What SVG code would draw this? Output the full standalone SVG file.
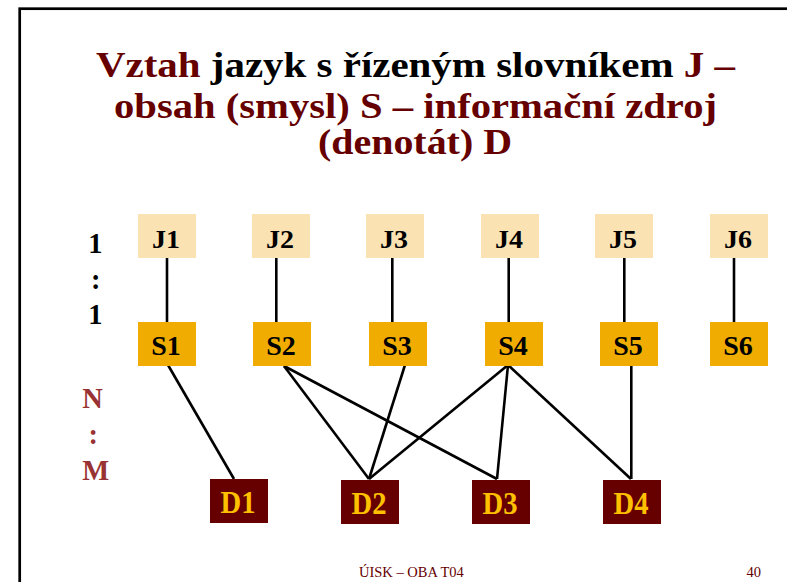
<svg xmlns="http://www.w3.org/2000/svg" width="787" height="582" viewBox="0 0 787 582">
<style>
.t{font-family:"Liberation Serif","Times New Roman",serif;font-weight:bold}
.title{font-size:35.5px;fill:#660000}
.blk{fill:#000000}
.j rect{fill:#FAE2B3}
.s rect{fill:#F0AC00}
.d rect{fill:#660000}
.jl{font-size:25px;fill:#000;text-anchor:middle}
.sl{font-size:28px;fill:#000;text-anchor:middle}
.dl{font-size:32px;fill:#FFC000;text-anchor:middle}
.ratio{font-size:28.5px;text-anchor:middle}
.conn line{stroke:#000;stroke-width:2.6;stroke-linecap:butt}
.foot{font-family:"Liberation Serif","Times New Roman",serif;font-size:14.5px;fill:#660000}
</style>
<rect x="0" y="0" width="787" height="582" fill="#ffffff"/>
<rect x="19.7" y="8.7" width="800" height="600" fill="none" stroke="#000" stroke-width="2.7"/>

<g id="title" class="t title">
<text x="96" y="77" textLength="639" lengthAdjust="spacingAndGlyphs">Vztah <tspan class="blk">jazyk s řízeným slovníkem</tspan> J –</text>
<text x="114" y="117.5" textLength="603" lengthAdjust="spacingAndGlyphs">obsah (smysl) S – informační zdroj</text>
<text x="318" y="154" textLength="194" lengthAdjust="spacingAndGlyphs">(denotát) D</text>
</g>

<g id="ratio11" class="t ratio" fill="#000">
<text x="95.3" y="253">1</text>
<text x="95.7" y="289">:</text>
<text x="95.3" y="324">1</text>
</g>
<g id="ratioNM" class="t ratio" fill="#993333">
<text x="92.5" y="408">N</text>
<text x="93.3" y="444">:</text>
<text x="95.8" y="480">M</text>
</g>

<g id="connectors" class="conn">
<line x1="167" y1="256" x2="167" y2="322"/>
<line x1="276.3" y1="256" x2="276.3" y2="322"/>
<line x1="392.3" y1="256" x2="392.3" y2="322"/>
<line x1="508.7" y1="256" x2="508.7" y2="322"/>
<line x1="624.3" y1="256" x2="624.3" y2="322"/>
<line x1="734" y1="256" x2="734" y2="322"/>
<line x1="168" y1="365" x2="234" y2="479"/>
<line x1="284" y1="366" x2="369" y2="479"/>
<line x1="284" y1="366" x2="497" y2="479"/>
<line x1="405" y1="365" x2="369" y2="479"/>
<line x1="508" y1="365" x2="369" y2="479"/>
<line x1="508" y1="365" x2="497" y2="479"/>
<line x1="508" y1="365" x2="631" y2="479"/>
<line x1="631.3" y1="363" x2="631.3" y2="479"/>
</g>

<g id="J1" class="j"><rect x="138" y="214" width="58" height="44"/><text class="t jl" x="166" y="248" textLength="28" lengthAdjust="spacingAndGlyphs">J1</text></g>
<g id="J2" class="j"><rect x="252" y="214" width="58" height="44"/><text class="t jl" x="280" y="248" textLength="28" lengthAdjust="spacingAndGlyphs">J2</text></g>
<g id="J3" class="j"><rect x="366" y="214" width="58" height="44"/><text class="t jl" x="394" y="248" textLength="28" lengthAdjust="spacingAndGlyphs">J3</text></g>
<g id="J4" class="j"><rect x="481" y="214" width="58" height="44"/><text class="t jl" x="509" y="248" textLength="28" lengthAdjust="spacingAndGlyphs">J4</text></g>
<g id="J5" class="j"><rect x="595" y="214" width="58" height="44"/><text class="t jl" x="623" y="248" textLength="28" lengthAdjust="spacingAndGlyphs">J5</text></g>
<g id="J6" class="j"><rect x="710" y="214" width="58" height="44"/><text class="t jl" x="738" y="248" textLength="28" lengthAdjust="spacingAndGlyphs">J6</text></g>

<g id="S1" class="s"><rect x="138" y="322" width="58" height="44"/><text class="t sl" x="166" y="355">S1</text></g>
<g id="S2" class="s"><rect x="253" y="322" width="58" height="44"/><text class="t sl" x="281" y="355">S2</text></g>
<g id="S3" class="s"><rect x="369" y="322" width="58" height="44"/><text class="t sl" x="397" y="355">S3</text></g>
<g id="S4" class="s"><rect x="485" y="322" width="58" height="44"/><text class="t sl" x="513" y="355">S4</text></g>
<g id="S5" class="s"><rect x="600" y="322" width="58" height="44"/><text class="t sl" x="628" y="355">S5</text></g>
<g id="S6" class="s"><rect x="710" y="322" width="58" height="44"/><text class="t sl" x="738" y="355">S6</text></g>

<g id="D1" class="d"><rect x="210" y="479" width="58" height="44"/><text class="t dl" x="238" y="513" textLength="35" lengthAdjust="spacingAndGlyphs">D1</text></g>
<g id="D2" class="d"><rect x="341" y="480" width="58" height="44"/><text class="t dl" x="369" y="514" textLength="35" lengthAdjust="spacingAndGlyphs">D2</text></g>
<g id="D3" class="d"><rect x="472" y="480" width="58" height="44"/><text class="t dl" x="500" y="514" textLength="35" lengthAdjust="spacingAndGlyphs">D3</text></g>
<g id="D4" class="d"><rect x="603" y="480" width="58" height="44"/><text class="t dl" x="631" y="514" textLength="35" lengthAdjust="spacingAndGlyphs">D4</text></g>

<g id="footer">
<text class="foot" x="359" y="577">ÚISK – OBA T04</text>
<text class="foot" x="746.5" y="577">40</text>
</g>
</svg>
